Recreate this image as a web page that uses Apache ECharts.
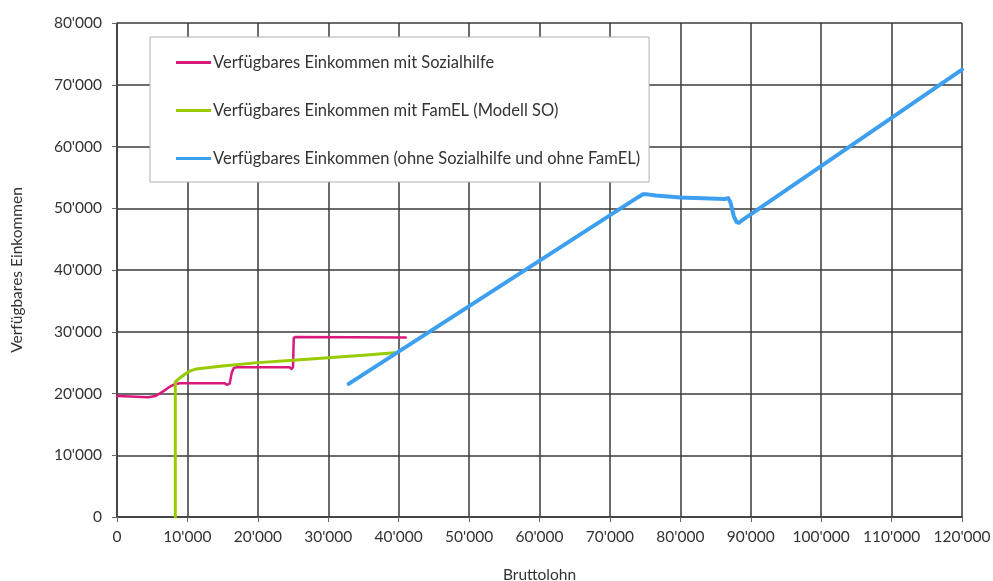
<!DOCTYPE html>
<html>
<head>
<meta charset="utf-8">
<script src="https://cdn.jsdelivr.net/npm/echarts@6/dist/echarts.min.js"></script>
<style>
  html, body { margin: 0; padding: 0; background: #fff; }
  #chart { width: 993px; height: 581px; }
</style>
</head>
<body>
<div id="chart"></div>
<script>
// Income curves: [Bruttolohn, verfügbares Einkommen]
const sozialhilfe = [
  [0, 19600], [2000, 19500], [4400, 19400], [5500, 19600], [6500, 20300],
  [7500, 21100], [8300, 21550], [9000, 21650], [15300, 21650], [15600, 21400],
  [16000, 21600], [16300, 23400], [16600, 24150], [17000, 24250], [24500, 24250],
  [24800, 23970], [25000, 24300], [25100, 29000], [25400, 29150], [41000, 29050]
];
const famEL = [
  [8280, 0], [8280, 21900], [9000, 22600], [9800, 23250], [10500, 23700],
  [11200, 23950], [15000, 24450], [20000, 25000], [25000, 25400],
  [30000, 25800], [35000, 26200], [39400, 26600]
];
const ohneHilfe = [
  [32900, 21550], [74000, 51800], [74700, 52250], [75300, 52250], [76500, 52050],
  [80000, 51750], [86300, 51500], [86800, 51650], [87100, 51000], [87600, 48700],
  [88000, 47750], [88300, 47650], [88900, 48150], [120000, 72450]
];
const seriesNames = [
  'Verfügbares Einkommen mit Sozialhilfe',
  'Verfügbares Einkommen mit FamEL (Modell SO)',
  'Verfügbares Einkommen (ohne Sozialhilfe und ohne FamEL)'
];
const seriesColors = ['#d9197c', '#99cc00', '#3d9ff0'];
const seriesWidths = [2.5, 3, 4];
const seriesData = [sozialhilfe, famEL, ohneHilfe];

const FONT = 'Lato';
const TEXT = '#333';
const GRIDLINE = '#3a3a3a';

function swissThousands(v) {
  return String(v).replace(/\B(?=(\d{3})+(?!\d))/g, "'");
}

const chart = echarts.init(document.getElementById('chart'), null, { renderer: 'canvas' });
chart.setOption({
  animation: false,
  backgroundColor: '#fff',
  textStyle: { fontFamily: FONT, color: TEXT },
  grid: { left: 117, right: 31, top: 23, bottom: 64, containLabel: false, outerBoundsMode: 'none' },
  legend: {
    orient: 'vertical',
    left: 150,
    top: 37,
    padding: [17, 9, 15, 26],
    itemGap: 31,
    itemWidth: 35,
    itemHeight: 3,
    icon: 'rect',
    backgroundColor: '#fff',
    borderColor: '#b0b0b0',
    borderWidth: 1,
    borderRadius: 0,
    selectedMode: false,
    textStyle: { fontFamily: FONT, fontSize: 16.5, color: TEXT, padding: [0, 0, 0, -3] },
    data: seriesNames
  },
  xAxis: {
    type: 'value',
    min: 0, max: 120000, interval: 10000,
    name: 'Bruttolohn',
    nameLocation: 'middle',
    nameGap: 50,
    nameMoveOverlap: false,
    nameTextStyle: { fontFamily: FONT, fontSize: 15.5, color: TEXT },
    axisLine: { show: true, lineStyle: { color: GRIDLINE, width: 1.5 } },
    axisTick: { show: true, length: 5, lineStyle: { color: '#666' } },
    axisLabel: { margin: 12, fontFamily: FONT, fontSize: 15.5, color: TEXT, formatter: swissThousands },
    splitLine: { show: true, lineStyle: { color: GRIDLINE, width: 1.5 } }
  },
  yAxis: {
    type: 'value',
    min: 0, max: 80000, interval: 10000,
    name: 'Verfügbares Einkommen',
    nameLocation: 'middle',
    nameRotate: 90,
    nameGap: 92,
    nameMoveOverlap: false,
    nameTextStyle: { fontFamily: FONT, fontSize: 15.5, color: TEXT },
    axisLine: { show: true, lineStyle: { color: GRIDLINE, width: 1.5 } },
    axisTick: { show: true, length: 5, lineStyle: { color: '#666' } },
    axisLabel: { margin: 15, fontFamily: FONT, fontSize: 15.5, color: TEXT, formatter: swissThousands },
    splitLine: { show: true, lineStyle: { color: GRIDLINE, width: 1.5 } }
  },
  series: seriesData.map((data, i) => ({
    name: seriesNames[i],
    type: 'line',
    data: data,
    showSymbol: false,
    symbol: 'none',
    smooth: false,
    color: seriesColors[i],
    lineStyle: { color: seriesColors[i], width: seriesWidths[i], join: 'round', cap: 'round' },
    emphasis: { disabled: true },
    z: 3 + i
  }))
});
</script>
</body>
</html>
